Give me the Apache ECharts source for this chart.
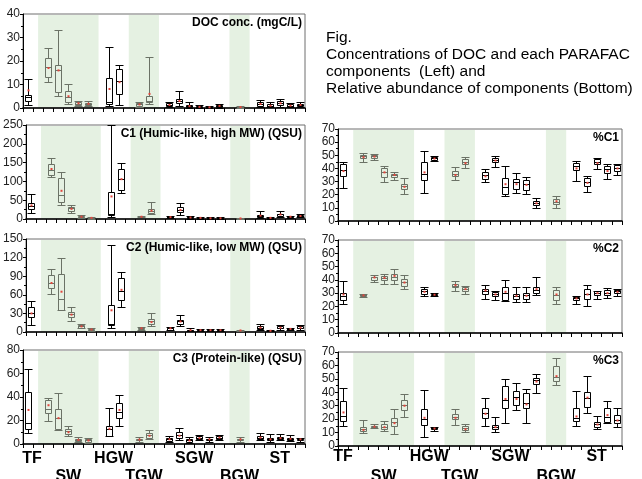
<!DOCTYPE html>
<html>
<head>
<meta charset="utf-8">
<script src="https://cdn.jsdelivr.net/npm/echarts@6/dist/echarts.min.js"></script>
<style>
  html, body { margin: 0; padding: 0; background: #fff; }
  #chart { width: 642px; height: 479px; }
</style>
</head>
<body>
<div id="chart"></div>
<script>
// x slots: sites with empty gaps between groups
const categories = ['TF', 'gap1', 'SW1', 'SW2', 'SW3', 'SW4', 'SW5', 'gap2', 'HGW1', 'HGW2', 'gap3',
  'TGW1', 'TGW2', 'gap4', 'SGW1', 'SGW2', 'SGW3', 'SGW4', 'SGW5', 'SGW6', 'gap5', 'BGW', 'gap6',
  'ST1', 'ST2', 'ST3', 'ST4', 'ST5']
const siteGroups = ['TF', 'SW', 'HGW', 'TGW', 'SGW', 'BGW', 'ST']
const shadedGroups = ['SW', 'TGW', 'BGW']

// boxes: [low whisker, Q1, median, Q3, high whisker], one per non-gap slot
const docBox = [[1.3, 2.9, 4.6, 5.7, 12.3], [10.9, 13.4, 17.4, 21.4, 25.4], [5.1, 6.7, 16.3, 18.1, 33.1],
  [1.7, 2.4, 4.6, 7.1, 10.3], [1.0, 1.4, 1.9, 2.4, 2.9], [0.8, 1.2, 1.8, 2.3, 3.0],
  [0.9, 1.7, 2.4, 12.9, 26], [1.3, 6.0, 11.3, 16.7, 18.1], [0.6, 1.0, 1.5, 2.0, 2.4],
  [1.7, 2.4, 3.1, 5.0, 21.7], [0.5, 0.9, 1.3, 2.0, 2.4], [1.0, 2.1, 2.9, 3.9, 7.1],
  [0.2, 0.4, 0.8, 1.2, 2.4], [0.1, 0.3, 0.5, 0.8, 1.3], [0.1, 0.2, 0.3, 0.5, 0.8],
  [0.2, 0.5, 0.9, 1.2, 1.7], [0.2, 0.3, 0.4, 0.5, 0.7], [0.6, 1.0, 1.7, 2.4, 3.6],
  [0.3, 0.6, 1.0, 1.6, 2.6], [0.6, 1.2, 2.0, 2.9, 3.7], [0.3, 0.6, 1.0, 1.5, 2.1], [0.4, 0.8, 1.3, 1.9, 2.7]]
const docMean = [7.5, 17, 16, 5, 2, 1.8, 8.1, 11, 1.5, 6, 1.3, 3, 0.8, 0.5, 0.3, 0.9, 0.4, 1.7, 1.0, 2.0, 1.0, 1.3]

const c1Box = [[15, 26, 35, 42, 66], [112, 118, 131, 146, 162], [38, 45, 64, 109, 125], [15, 21, 29, 33, 37],
  [3, 4, 6, 8, 10], [1, 2, 3, 4, 5], [4, 10, 14, 73, 250], [68, 78, 106, 134, 149], [4, 5, 6, 7, 9],
  [12, 15, 20, 27, 46], [2, 3, 5, 7, 9], [11, 18, 24, 31, 42], [1, 2, 4, 6, 9], [1, 2, 3, 4, 6],
  [0.5, 1, 2, 3, 5], [0.5, 1, 2, 3, 4], [0.5, 1, 1.5, 2, 3], [2, 5, 8, 11, 21], [1, 2, 3, 4, 5],
  [4, 8, 12, 14, 20], [3, 4, 6, 7, 9], [4, 6, 8, 10, 12]]
const c1Mean = [36, 133, 75, 27, 6, 3, 60, 106, 6, 22, 5, 24, 4, 3, 2, 2, 1.5, 9, 3, 12, 6, 8]

const c2Box = [[12, 24, 31, 41, 50], [61, 71, 79, 92, 102], [35, 36, 54, 94, 120], [18, 25, 29, 33, 40],
  [6, 7, 9, 11, 13], [2, 3, 4, 5, 6], [6, 11, 13, 44, 140], [40, 51, 66, 87, 96], [4, 5, 6, 7, 8],
  [10, 13, 17, 21, 30], [3, 4, 6, 7, 8], [9, 13, 17, 20, 27], [1, 2, 3, 4, 6], [1, 2, 3, 4, 5],
  [1, 2, 3, 4, 5], [1, 2, 3, 4, 5], [1.5, 2, 2.5, 3, 4], [3, 5, 7, 9, 13], [1, 1.5, 2, 3, 4],
  [4, 6, 7, 9, 11], [3, 4, 5, 6, 7], [4, 6, 7, 9, 11]]
const c2Mean = [30, 79, 65, 28, 9, 4, 35, 68, 6, 16, 6, 17, 3, 3, 3, 3, 2.5, 7, 2, 7, 5, 7]

const c3Box = [[9.6, 12.5, 18, 44, 64], [19.6, 26, 30, 37.5, 39], [12, 13, 22, 29.5, 43], [6.8, 8.2, 11.3, 13, 15],
  [1.5, 2.5, 3.5, 4.5, 5.7], [1, 2, 3, 4, 5.4], [6.8, 7, 12.5, 15.3, 31], [15.6, 22, 27, 35, 42],
  [2, 3, 3.8, 4.5, 5.7], [4.3, 5.4, 7.4, 9, 12], [1.5, 2.5, 4, 5.5, 6.8], [3.4, 5.4, 7.7, 10.5, 14],
  [1, 2, 3, 4, 5.7], [3, 4, 5, 6.5, 8], [2, 3, 4, 4.5, 5.7], [3, 4.5, 5.5, 6.5, 8], [2, 3, 4, 4.5, 5.7],
  [3, 4, 5.5, 7, 9.6], [1.5, 3, 4, 5, 8.2], [3, 4, 5, 6, 8.2], [2.5, 3.5, 4.5, 5.5, 8], [2, 3, 4, 4.5, 5.4]]
const c3Mean = [29, 33, 22, 10, 3.5, 3, 13, 29, 3.8, 7, 4, 7, 3, 5, 4, 5.5, 4, 5.5, 4, 5, 4.5, 4]

const pc1Box = [[25.4, 34, 38.7, 43, 45], [45, 47.6, 49.4, 50, 51.4], [46.3, 48.3, 49.4, 50, 50.6],
  [29.8, 33.6, 37.4, 40, 42], [31, 33.6, 35, 36, 37.4], [20.9, 24.2, 26.5, 28, 32.8],
  [21.4, 31, 35.4, 45, 53.4], [45.8, 46.3, 47.6, 48.9, 49.4], [31, 34, 36, 38.2, 41.2],
  [40, 43.3, 45, 46.8, 48.9], [29.8, 32.3, 35, 37.4, 39.2], [41.2, 45, 46.3, 48, 49.4],
  [18.8, 20.9, 26, 32.8, 41.7], [21.4, 24.7, 29.8, 32.3, 36.9], [20.4, 23.4, 28, 31, 33.6],
  [9.9, 12, 13.7, 15.3, 17.8], [10.2, 12.7, 14.5, 17, 19], [30.5, 38.7, 41.7, 44.3, 45.8],
  [22.1, 26.5, 29.8, 33, 34], [39.2, 43.3, 45, 46.8, 48], [31.6, 36.6, 39.2, 41.7, 43.3],
  [34.9, 38.2, 40.7, 42.5, 43.3]]
const pc1Mean = [38, 48.5, 49, 37, 35, 26, 37, 47.5, 35, 44, 34, 46, 28, 28, 27.5, 13.5, 15, 40, 29, 44, 38, 40]

const pc2Box = [[21.8, 24.5, 28, 30, 38.8], [27, 27.5, 28.3, 29, 29.5], [38.3, 40, 41.8, 42.5, 43.8],
  [36.8, 40, 41.3, 43, 44.3], [36.8, 40, 41.8, 44.3, 48.3], [33, 35.5, 38.3, 40.5, 43.3],
  [27.5, 29.3, 31.3, 33, 35], [27.5, 28.3, 28.8, 29.3, 30], [31.8, 34.3, 35.5, 36.8, 38.8],
  [29.3, 31.8, 33, 34.3, 35.5], [25.8, 29.3, 31.3, 33, 35.8], [25, 27.5, 29.3, 30.5, 31.8],
  [23.8, 25, 30, 34.5, 40], [23, 25.8, 28, 29.5, 35], [23, 25.8, 28.3, 30, 34.5],
  [28.3, 30, 32.5, 34.3, 41.8], [22, 25, 28.8, 32.5, 34.3], [21.8, 25, 26.3, 27, 28],
  [20, 25.8, 29.3, 33, 36.3], [25.8, 28.8, 30, 31.3, 31.8], [26.3, 28.3, 30, 32, 33.8],
  [27.5, 30, 31.3, 32.5, 33]]
const pc2Mean = [29, 28.3, 41.8, 41.5, 43, 38, 31, 28.8, 36, 33, 32, 29, 31, 28, 28, 33, 29, 26, 29, 30, 30, 31]

const pc3Box = [[15.1, 18.8, 22.3, 33.4, 43.3], [9.4, 11.4, 12.6, 13.9, 19.3], [13.1, 13.9, 14.4, 15.1, 16.1],
  [11.1, 12.6, 14.4, 16.3, 18.6], [8.9, 15.1, 18.1, 20.5, 27.2], [21.3, 26.7, 30.4, 34.2, 38.4],
  [6.9, 15.6, 19.8, 27.2, 41.6], [11.4, 12.4, 13.1, 13.9, 14.4], [15.6, 19.8, 21.8, 23.8, 27.2],
  [10.6, 11.9, 13.1, 14.9, 16.1], [14.9, 20.5, 24.8, 28, 35.4], [10.6, 12.4, 13.9, 15.6, 21.8],
  [17.3, 28, 34.2, 44.6, 50.2], [26.7, 30.9, 36.6, 40.8, 47], [16.8, 28, 31.7, 39.1, 42.8],
  [39.1, 46.5, 49, 51, 53.5], [45.3, 48.5, 51.5, 59.4, 65.8], [14.9, 18.8, 20.5, 28, 40.8],
  [24.8, 29.2, 36.1, 40.3, 52], [12.4, 13.9, 16.3, 18.1, 22.3], [16.8, 18.1, 21.8, 28, 33.4],
  [14.4, 17.3, 19.3, 23, 28.5]]
const pc3Mean = [25, 12, 14.4, 14, 17, 30, 21, 13, 21, 12.5, 24, 14, 35, 35, 31, 48, 52, 22, 36, 16, 23, 19]

const figNote = ['Fig.', 'Concentrations of DOC and each PARAFAC', 'components  (Left) and',
  'Relative abundance of components (Bottom)']

const FONT = '"Liberation Sans", Arial, sans-serif'
const GRAY = '#6b7266'
const SHADE = '#e5f1e2'

const groupOf = (name) => name.replace(/\d+$/, '')
const boxSlots = categories.map((c, i) => i).filter((i) => !categories[i].startsWith('gap'))

// shaded band runs from the gap before a group to the gap after it (centre to centre)
const bands = shadedGroups.map((g) => {
  const idx = categories.map((c, i) => i).filter((i) => groupOf(categories[i]) === g)
  return [idx[0] - 1, idx[idx.length - 1] + 1]
})

const panels = [
  { box: docBox, mean: docMean, max: 40, interval: 10, title: 'DOC conc. (mgC/L)', side: 0, top: 14, height: 94 },
  { box: c1Box, mean: c1Mean, max: 250, interval: 50, title: 'C1 (Humic-like, high MW) (QSU)', side: 0, top: 125, height: 94 },
  { box: c2Box, mean: c2Mean, max: 150, interval: 30, title: 'C2 (Humic-like, low MW) (QSU)', side: 0, top: 239, height: 93 },
  { box: c3Box, mean: c3Mean, max: 80, interval: 20, title: 'C3 (Protein-like) (QSU)', side: 0, top: 350, height: 94 },
  { box: pc1Box, mean: pc1Mean, max: 70, interval: 10, title: '%C1', side: 1, top: 129, height: 92 },
  { box: pc2Box, mean: pc2Mean, max: 70, interval: 10, title: '%C2', side: 1, top: 240, height: 93 },
  { box: pc3Box, mean: pc3Mean, max: 70, interval: 10, title: '%C3', side: 1, top: 352, height: 94 },
]
const sides = [{ left: 23, width: 282 }, { left: 338, width: 284 }]

const renderBand = (params, api) => {
  const x1 = api.coord([api.value(0), 0])[0]
  const x2 = api.coord([api.value(1), 0])[0]
  const cs = params.coordSys
  return {
    type: 'rect',
    shape: { x: x1, y: cs.y + 1, width: x2 - x1, height: cs.height - 1 },
    style: { fill: SHADE },
    silent: true,
  }
}

const renderBox = (params, api) => {
  const slot = api.value(0)
  const px = (v) => Math.round(api.coord([slot, v])[1]) + 0.5
  const cx = Math.round(api.coord([slot, 0])[0]) + 0.5
  const w = api.size([1, 0])[0]
  const bw = Math.round(w * 0.27)
  const cw = Math.round(w * 0.42)
  const lo = px(api.value(1))
  const q1 = px(api.value(2))
  const md = px(api.value(3))
  const q3 = px(api.value(4))
  const hi = px(api.value(5))
  const mn = api.coord([slot, api.value(6)])[1]
  const color = shadedGroups.includes(groupOf(categories[slot])) ? GRAY : '#000'
  const ls = { stroke: color, lineWidth: 1, fill: null }
  const line = (x1, y1, x2, y2) => ({ type: 'line', shape: { x1, y1, x2, y2 }, style: ls })
  return {
    type: 'group',
    children: [
      line(cx, hi, cx, q3),
      line(cx, q1, cx, lo),
      line(cx - cw, hi, cx + cw, hi),
      line(cx - cw, lo, cx + cw, lo),
      { type: 'rect', shape: { x: cx - bw, y: q3, width: bw * 2, height: Math.max(q1 - q3, 1) }, style: ls },
      line(cx - bw, md, cx + bw, md),
      { type: 'rect', shape: { x: cx - 1, y: mn - 1, width: 2, height: 2 }, style: { fill: '#e2453c' } },
    ],
  }
}

const chart = echarts.init(document.getElementById('chart'), null, { renderer: 'canvas' })

const option = {
  animation: false,
  backgroundColor: '#fff',
  textStyle: { fontFamily: FONT },
  title: panels.map((p) => ({
    text: p.title,
    right: 642 - (sides[p.side].left + sides[p.side].width) + 3,
    top: p.top + 3,
    padding: 0,
    textStyle: { fontSize: 12, fontWeight: 'bold', color: '#000', fontFamily: FONT },
  })),
  grid: panels.map((p) => ({
    left: sides[p.side].left,
    width: sides[p.side].width,
    top: p.top,
    height: p.height,
    show: true,
    borderColor: '#6f6f6f',
    borderWidth: 1,
    backgroundColor: 'transparent',
  })),
  xAxis: panels.map((p, i) => ({
    type: 'category',
    gridIndex: i,
    data: categories,
    boundaryGap: true,
    axisLine: { lineStyle: { color: '#000', width: 1.5 } },
    axisTick: { show: true, interval: 0, length: 4, lineStyle: { color: '#000' } },
    axisLabel: { show: false },
    splitLine: { show: false },
  })),
  yAxis: panels.map((p, i) => ({
    type: 'value',
    gridIndex: i,
    min: 0,
    max: p.max,
    interval: p.interval,
    axisLine: { show: true, lineStyle: { color: '#000' } },
    axisTick: { show: true, length: 3, lineStyle: { color: '#000' } },
    minorTick: { show: true, splitNumber: 2, length: 2, lineStyle: { color: '#000' } },
    axisLabel: { fontSize: 12, color: '#222', margin: 3, fontFamily: FONT },
    splitLine: { show: false },
  })),
  series: panels.flatMap((p, i) => [
    {
      type: 'custom',
      xAxisIndex: i,
      yAxisIndex: i,
      z: -1,
      silent: true,
      renderItem: renderBand,
      encode: { x: [0, 1] },
      data: bands,
    },
    {
      type: 'custom',
      xAxisIndex: i,
      yAxisIndex: i,
      renderItem: renderBox,
      encode: { x: 0, y: [1, 2, 3, 4, 5, 6] },
      data: boxSlots.map((slot, k) => [slot, ...p.box[k], p.mean[k]]),
    },
  ]),
}

chart.setOption(option)

// site labels under the two bottom panels, two staggered rows
const labelGraphics = []
;[3, 6].forEach((axisIndex) => {
  const p = panels[axisIndex]
  const bottom = p.top + p.height
  siteGroups.forEach((g, gi) => {
    const idx = categories.map((c, i) => i).filter((i) => groupOf(categories[i]) === g)
    const a = chart.convertToPixel({ xAxisIndex: axisIndex }, idx[0])
    const b = chart.convertToPixel({ xAxisIndex: axisIndex }, idx[idx.length - 1])
    labelGraphics.push({
      type: 'text',
      x: (a + b) / 2 + (g === 'TF' && axisIndex === 3 ? 4 : 0),
      y: gi % 2 === 0 ? bottom + (axisIndex === 3 ? 15 : 11) : 477,
      style: {
        text: g,
        font: 'bold 16px ' + FONT,
        fill: '#000',
        textAlign: 'center',
        textVerticalAlign: 'middle',
      },
    })
  })
})

figNote.forEach((line, i) => {
  labelGraphics.push({
    type: 'text',
    left: 326,
    top: 30 + i * 17,
    style: { text: line, font: '15.5px ' + FONT, fill: '#000' },
  })
})

chart.setOption({ graphic: labelGraphics })
</script>
</body>
</html>
